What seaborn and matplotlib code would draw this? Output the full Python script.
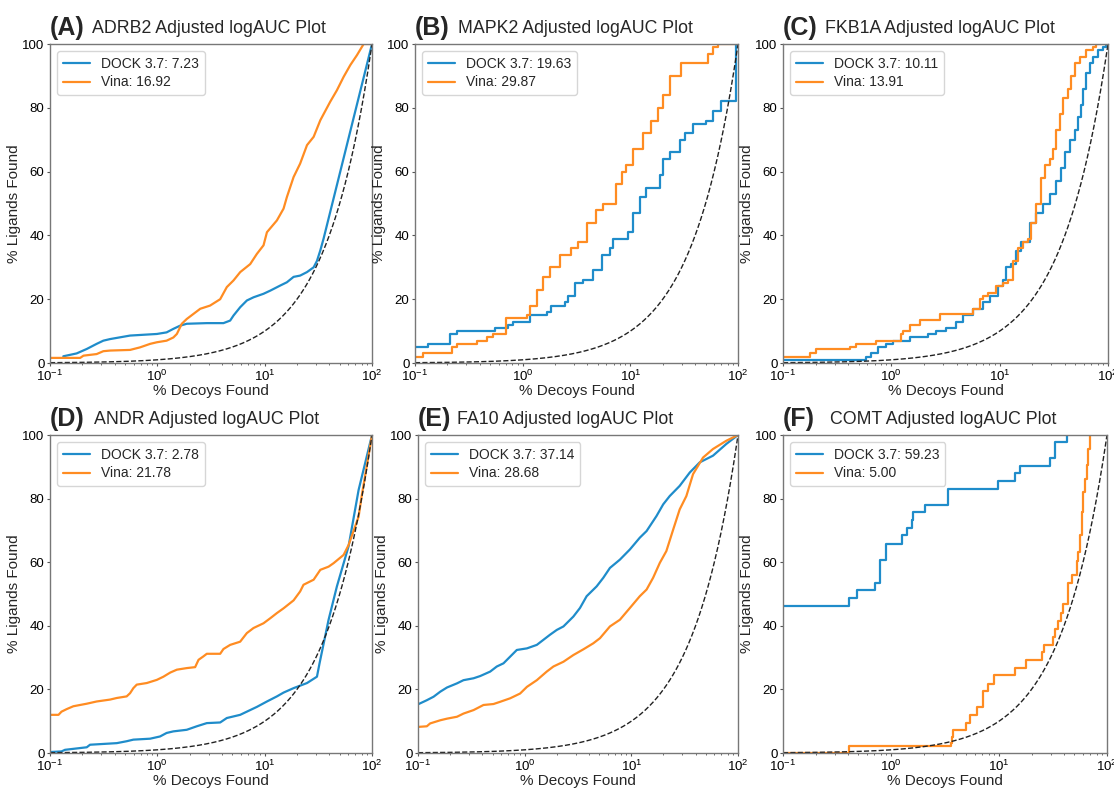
import numpy as np
import matplotlib
matplotlib.use("Agg")
import matplotlib.pyplot as plt
import seaborn as sns

# panel text
letters = ["(A)", "(B)", "(C)", "(D)", "(E)", "(F)"]
targets = ["ADRB2", "MAPK2", "FKB1A", "ANDR", "FA10", "COMT"]
dock_auc = ["7.23", "19.63", "10.11", "2.78", "37.14", "59.23"]
vina_auc = ["16.92", "29.87", "13.91", "21.78", "28.68", "5.00"]

# % decoys found (x) and % ligands found (y)
adrb2_dock_x = [0.133, 0.177, 0.220, 0.272, 0.314, 0.363, 0.557, 0.99, 1.22, 1.41, 1.63, 1.88, 2.89, 4.13, 4.77,
                5.13, 5.92, 6.83, 7.88, 9.76, 11.3, 14.0, 16.1, 18.6, 21.4, 24.8, 28.6, 30.7, 33.0, 35.4, 100]
adrb2_dock_y = [2.1, 3, 4.4, 6, 7, 7.5, 8.6, 9.1, 9.6, 10.7, 11.7, 12.3, 12.5, 12.5, 13.3,
                14.9, 17.5, 19.6, 20.6, 21.7, 22.7, 24.3, 25.3, 27, 27.4, 28.5, 30, 32, 35.3, 39, 100]
adrb2_vina_x = [0.1, 0.191, 0.205, 0.272, 0.314, 0.363, 0.557, 0.69, 0.857, 0.99, 1.22, 1.41, 1.52, 1.69, 1.88,
                2.51, 3.10, 3.85, 4.44, 5.13, 5.92, 7.33, 8.46, 9.76, 10.5, 13.0, 15.0, 16.1, 18.6, 21.4,
                24.8, 28.6, 33.0, 40.8, 47.1, 54.4, 62.8, 72.4, 83.6, 100]
adrb2_vina_y = [1.6, 1.6, 2.3, 2.8, 3.7, 3.9, 4.1, 4.9, 6, 6.5, 7, 8, 9.1, 12.3, 13.8,
                17, 18, 20, 23.8, 25.9, 28.5, 31, 34.2, 36.9, 41, 44.7, 48.4, 52, 58.3, 62.5,
                68.3, 70.9, 76.1, 81.9, 85.5, 89.7, 93.4, 96.5, 100, 100]

mapk2_dock_x = [0.1, 0.133, 0.211, 0.244, 0.553, 0.735, 0.818, 1.167, 1.67, 1.85, 2.47, 2.65, 3.05, 3.65, 4.52,
                5.40, 6.45, 6.92, 9.55, 10.6, 12.2, 14.1, 18.8, 20.1, 23.2, 28.8, 32.0, 38.3, 50.8, 58.6,
                70.1, 95.0, 100]
mapk2_dock_y = [5, 6, 9, 10, 11, 12, 13, 15, 16, 18, 19, 21, 25, 26, 29,
                34, 36, 39, 41, 47, 52, 55, 59, 64, 66, 70, 72, 75, 76, 79,
                82, 100, 100]
mapk2_vina_x = [0.1, 0.119, 0.219, 0.244, 0.373, 0.462, 0.533, 0.699, 1.087, 1.167, 1.35, 1.55, 1.79, 2.22, 2.84,
                3.28, 3.92, 4.85, 5.59, 7.43, 8.28, 9.21, 10.6, 13.2, 15.7, 18.1, 20.1, 23.2, 29.8, 52.7,
                58.6, 65.3, 100]
mapk2_vina_y = [2, 3, 5, 6, 7, 8, 9, 14, 15, 18, 23, 27, 30, 34, 36,
                38, 44, 48, 50, 56, 60, 62, 67, 72, 76, 80, 84, 90, 94, 97,
                99, 100, 100]

fkb1a_dock_x = [0.1, 0.588, 0.654, 0.754, 0.899, 1.04, 1.48, 2.18, 2.60, 3.22, 3.98, 4.59, 5.68, 7.02, 8.09,
                9.66, 10.7, 11.5, 12.8, 14.3, 15.8, 18.9, 21.8, 25.1, 29.0, 33.4, 37.1, 39.8, 44.3, 49.2,
                52.8, 56.7, 58.8, 63.1, 67.7, 72.7, 80.9, 89.9, 96.5, 100]
fkb1a_dock_y = [1, 2, 3, 5, 6, 7, 8, 9, 10, 11, 13, 15, 17, 19, 21,
                24, 26, 30, 31, 35, 38, 44, 47, 50, 53, 57, 61, 66, 70, 73,
                77, 81, 86, 91, 94, 96, 98, 99, 100, 100]
fkb1a_vina_x = [0.1, 0.176, 0.203, 0.412, 0.475, 0.727, 1.24, 1.28, 1.48, 1.83, 2.79, 5.68, 6.54, 7.02, 7.80,
                9.31, 10.7, 11.9, 13.3, 14.8, 16.4, 18.3, 19.6, 21.8, 24.2, 26.0, 29.0, 31.0, 33.4, 35.8,
                38.4, 42.8, 45.9, 49.2, 54.7, 63.1, 72.7, 78.0, 100]
fkb1a_vina_y = [2, 3, 4.5, 5, 6, 7, 9, 10, 12, 13.5, 15.5, 17, 20, 21, 22,
                24, 25, 26, 32, 36, 38, 39, 44, 50, 58, 62, 64, 67, 73, 78,
                83, 86, 90, 94, 96, 98, 99, 100, 100]

andr_dock_x = [0.1, 0.128, 0.138, 0.220, 0.236, 0.419, 0.518, 0.598, 0.857, 1.06, 1.22, 1.41, 1.88, 2.33, 2.89,
               3.85, 4.44, 5.91, 6.82, 8.46, 10.5, 13.0, 15.0, 18.6, 24.8, 30.7, 32.5, 39.4, 47.1, 60.5,
               75.0, 100]
andr_dock_y = [0.3, 0.5, 1, 1.8, 2.6, 3.1, 3.7, 4.2, 4.5, 5.2, 6.3, 6.8, 7.3, 8.4, 9.4,
               9.6, 11, 12, 13, 14.5, 16.2, 17.8, 19, 20.4, 22, 24, 28.3, 41.9, 52.4, 65,
               82.7, 100]
andr_vina_x = [0.1, 0.120, 0.128, 0.143, 0.165, 0.220, 0.272, 0.363, 0.419, 0.518, 0.557, 0.598, 0.643, 0.797, 0.99,
               1.14, 1.32, 1.52, 1.88, 2.25, 2.42, 2.69, 2.89, 3.85, 4.13, 4.77, 5.91, 6.82, 7.87, 9.76,
               11.3, 13.0, 15.0, 18.6, 21.4, 23.0, 28.6, 33.0, 39.4, 43.9, 54.4, 60.5, 75.0, 80.5, 100]
andr_vina_y = [12, 12, 13, 13.8, 14.7, 15.5, 16.2, 16.8, 17.3, 17.8, 18.8, 20.4, 21.5, 22, 23,
               24, 25.3, 26.2, 26.7, 27, 29.3, 30.4, 31.2, 31.2, 32.7, 34, 35, 37.7, 39.3, 40.8,
               42.4, 44, 45.5, 48, 50.8, 52.9, 54.5, 57.6, 58.6, 59.7, 62.3, 65.4, 74.3, 81.2, 100]

fa10_dock_x = [0.1, 0.121, 0.140, 0.162, 0.187, 0.232, 0.267, 0.332, 0.383, 0.475, 0.548, 0.633, 0.731, 0.844, 1.05,
               1.30, 1.50, 1.73, 2.00, 2.31, 2.86, 3.30, 3.81, 4.73, 5.46, 6.30, 7.81, 9.69, 12.0, 13.9,
               17.2, 19.9, 22.9, 28.4, 35.3, 43.8, 58.3, 77.8, 100]
fa10_dock_y = [15.3, 16.6, 17.7, 19.3, 20.6, 21.9, 22.9, 23.5, 24.2, 25.6, 27.2, 28.2, 30.3, 32.4, 32.9,
               34, 35.6, 37.2, 38.7, 39.8, 42.9, 45.6, 49.3, 52.4, 55.1, 58.2, 60.8, 64, 67.7, 69.8,
               74.5, 78.2, 80.8, 84, 88.2, 91.4, 93.5, 97.2, 100]
fa10_vina_x = [0.1, 0.121, 0.130, 0.162, 0.187, 0.232, 0.267, 0.332, 0.411, 0.510, 0.589, 0.731, 0.906, 1.05, 1.30,
               1.61, 1.86, 2.31, 2.86, 3.55, 4.40, 5.08, 6.30, 7.81, 9.69, 12.0, 13.9, 16.0, 18.5, 21.3,
               24.7, 28.4, 32.8, 37.9, 47.0, 58.3, 77.8, 100]
fa10_vina_y = [8.2, 8.4, 9.3, 10.3, 10.8, 11.4, 12.4, 13.5, 15.1, 15.4, 16.1, 17.2, 18.7, 20.8, 22.9,
               25.6, 27.2, 28.7, 30.8, 32.6, 34.5, 36.1, 39.8, 41.9, 45.6, 49.3, 51.4, 55.1, 59.8, 63.5,
               70.3, 76.6, 80.8, 87.7, 92.9, 95.6, 98.2, 100]

comt_dock_x = [0.1, 0.411, 0.481, 0.711, 0.791, 0.899, 1.26, 1.40, 1.55, 1.61, 2.06, 3.40, 9.86, 14.1, 15.6,
               29.6, 33.0, 42.3]
comt_dock_y = [46.3, 48.8, 51.2, 53.5, 60.8, 65.7, 68.4, 70.7, 73.3, 75.7, 78.0, 82.9, 85.5, 87.9, 90.3,
               92.8, 97.8, 100]
comt_vina_x = [0.1, 0.411, 3.57, 3.67, 3.78, 4.95, 5.39, 6.21, 7.06, 7.97, 8.99, 14.1, 17.8, 24.8, 26.1,
               31.8, 33.0, 35.4, 37.5, 38.9, 43.9, 47.1, 52.4, 54.3, 56.2, 58.3, 60.4, 62.5, 64.9, 67.1,
               69.6]
comt_vina_y = [0, 2.3, 3.0, 5.1, 7.2, 9.5, 11.9, 14.5, 19.5, 21.8, 24.4, 26.7, 29.1, 31.7, 34.1,
               36.4, 39, 41.4, 43.9, 46.8, 53.5, 56, 60.3, 63.3, 68.6, 75.9, 82.2, 86.3, 90.5, 95.7,
               100]

dock_curves = [(adrb2_dock_x, adrb2_dock_y), (mapk2_dock_x, mapk2_dock_y), (fkb1a_dock_x, fkb1a_dock_y),
               (andr_dock_x, andr_dock_y), (fa10_dock_x, fa10_dock_y), (comt_dock_x, comt_dock_y)]
vina_curves = [(adrb2_vina_x, adrb2_vina_y), (mapk2_vina_x, mapk2_vina_y), (fkb1a_vina_x, fkb1a_vina_y),
               (andr_vina_x, andr_vina_y), (fa10_vina_x, fa10_vina_y), (comt_vina_x, comt_vina_y)]
stepped = [False, True, True, False, False, True]

# random selection reference (y = x)
random_pct = np.logspace(-1, 2, 300)

sns.set_style("ticks")
plt.rcParams["font.family"] = ["Liberation Sans", "DejaVu Sans"]
plt.rcParams["mathtext.fontset"] = "custom"
plt.rcParams["mathtext.rm"] = "Liberation Sans"
plt.rcParams["axes.unicode_minus"] = False
plt.rcParams["axes.edgecolor"] = "#777777"
plt.rcParams["axes.linewidth"] = 1.0
plt.rcParams["xtick.color"] = "#555555"
plt.rcParams["ytick.color"] = "#555555"
plt.rcParams["xtick.labelcolor"] = "black"
plt.rcParams["ytick.labelcolor"] = "black"

dock_color = "#1f8cca"
vina_color = "#ff8c22"

W, H = 1114, 789
fig = plt.figure(figsize=(W / 100, H / 100), dpi=100)

# axes boxes in pixels: left, right, top, bottom
boxes = [(50, 372, 44, 363), (415, 738, 44, 363), (783, 1108, 44, 363),
         (50, 372, 435, 753), (418, 738, 435, 753), (783, 1107, 435, 753)]
title_gaps = [5, 6, 5, 7, 4, 11]

for i in range(6):
    l, r, t, b = boxes[i]
    ax = fig.add_axes([l / W, 1 - b / H, (r - l) / W, (b - t) / H])

    ds = "steps-post" if stepped[i] else "default"
    sns.lineplot(x=dock_curves[i][0], y=dock_curves[i][1], ax=ax, color=dock_color, lw=1.6,
                 estimator=None, sort=False, drawstyle=ds, label=f"DOCK 3.7: {dock_auc[i]}")
    sns.lineplot(x=vina_curves[i][0], y=vina_curves[i][1], ax=ax, color=vina_color, lw=1.6,
                 estimator=None, sort=False, drawstyle=ds, label=f"Vina: {vina_auc[i]}")
    ax.plot(random_pct, random_pct, color="#222222", lw=1.0, ls="--")

    ax.set_xscale("log")
    ax.set_xlim(0.1, 100)
    ax.set_ylim(0, 100)
    ax.set_yticks([0, 20, 40, 60, 80, 100])
    ax.tick_params(labelsize=9.5, length=2.5)
    ax.tick_params(axis="y", pad=1.5)
    ax.tick_params(axis="x", pad=2)
    ax.tick_params(which="minor", length=1.5)
    ax.set_xlabel("% Decoys Found", fontsize=11, labelpad=0)
    ax.set_ylabel("% Ligands Found", fontsize=11, labelpad=1)
    ax.legend(loc="upper left", fontsize=10, handlelength=2.0, labelspacing=0.35, frameon=True)

    t1 = ax.annotate(letters[i], xy=(0, 1), xycoords="axes fraction", xytext=(0, 3),
                     textcoords="offset points", ha="left", va="bottom",
                     fontsize=18, fontweight="bold")
    ax.annotate(f"{targets[i]} Adjusted logAUC Plot", xy=(1, 0), xycoords=t1,
                xytext=(title_gaps[i], 2.2), textcoords="offset points",
                ha="left", va="bottom", fontsize=12.8)

fig.savefig("out.png", dpi=100)
